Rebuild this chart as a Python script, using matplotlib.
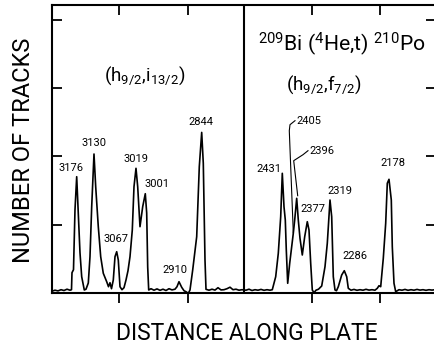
import matplotlib
matplotlib.use("Agg")
import matplotlib.pyplot as plt
import numpy as np

plt.rcParams['font.family'] = ['Roboto', 'DejaVu Sans']
plt.rcParams['mathtext.fontset'] = 'custom'
plt.rcParams['mathtext.rm'] = 'Roboto'
plt.rcParams['mathtext.it'] = 'Roboto'

# distance along plate (arbitrary units) and number of tracks (arbitrary units)
distance = [0, 3, 6, 9, 12, 15, 18, 19.5, 20, 21.5, 23, 24.7, 26.3, 28, 29.7, 32.3, 34,
            36.3, 38, 39.7, 42, 43.7, 46.3, 48.7, 51.3, 54.7, 56.5, 58, 59.5, 61.3, 63,
            64.7, 66.3, 68, 70, 72, 74, 76, 78, 80.3, 82, 84, 85.7, 88, 90.7, 93.3, 94.7,
            95.7, 96.7, 99, 102, 105, 108, 111, 114, 117, 120, 123, 125, 127, 129.7, 132,
            134, 136.3, 138, 140.7, 144.7, 147.3, 149, 149.7, 151.3, 153, 154, 157, 160,
            163, 166, 169, 172, 175, 178, 181, 184, 187, 190,
            194, 197, 200, 203, 206, 209, 212, 215, 218, 220.3, 223.7, 226.3, 228.7, 230.3,
            232, 233.3, 234.3, 235.7, 237.7, 239.7, 241.3, 242.7, 244.7, 246.3, 248, 250.3,
            252.7, 255.3, 257, 258.7, 260.3, 262, 264, 266.5, 269.7, 273, 275.3, 278, 279.7,
            281.3, 283, 284.5, 286.3, 289.7, 292.3, 294.7, 296.3, 299, 302, 305, 308, 311,
            314, 317, 320, 323, 325.3, 327, 328.7, 331.3, 333.7, 335.3, 337, 339.3, 340.3,
            342, 343.7, 347, 350, 353, 356, 359, 362, 365, 368, 371, 374, 377, 380, 383]
tracks = [1.5, 2.5, 1.8, 3, 2.2, 3.5, 2.5, 3, 20, 23, 83, 116, 80, 40, 16, 2.7, 3.5,
          9.7, 36, 86, 138.7, 106, 66, 36, 19.4, 11, 6, 10, 4, 12.7, 36,
          41, 32.7, 6, 3, 5, 12.7, 22, 36, 62.7, 106, 124.4, 106, 66, 86, 99, 79.7,
          25.7, 2.7, 4, 2.5, 3.8, 2.4, 3.5, 2.2, 4, 2.8, 3.5, 6, 11, 5.4, 2,
          1, -0.6, 2.7, 22.7, 56, 126, 149.7, 160.3, 129.4, 32.7, 3.4, 2.5, 3.5,
          2.6, 5, 2.8, 3, 4, 5.5, 3, 3.5, 2.5, 3,
          2.5, 3.5, 2.2, 3, 2.5, 3.3, 2.4, 3, 2.5, 3, 16, 39.4, 76, 119.4,
          86, 72.7, 42.7, 9.4, 29.4, 46, 59.4, 72.7, 94.4, 72.7, 54.4, 37.7,
          56, 71, 62.7, 29.4, 2.7, 0, 2.5, 3.5, 6.7, 26, 49.4, 92.7, 76,
          16, 2.7, 2, 6, 17.7, 22, 16, 4.4, 2.5, 3.3, 2.4, 3, 2.5,
          3.4, 2.6, 3, 2.5, 4.4, 7, 6, 34.4, 69.4, 109.4, 113.4, 92.7, 46,
          9.4, 1, 3, 2.5, 3.3, 2.4, 3, 2.5, 3.3, 2.6, 3, 2.4, 3, 2.6, 3]

# peak labels (keV) and label positions
peak_labels = ['3176', '3130', '3067', '3019', '3001', '2910', '2844',
               '2431', '2405', '2396', '2377', '2319', '2286', '2178']
label_x = [19.5, 42, 64.5, 84, 105.5, 123, 148.5,
           217, 257, 270, 261, 288, 303, 341]
label_y = [125, 150, 54, 134, 109, 23, 171,
           124, 172, 142, 84, 102, 37, 130]

# leader lines: label, peak position pointed at
leader_labels = ['2405', '2396']
leader_peak_x = [241.3, 245.7]
leader_peak_y = [60, 97]

plate_divider = 192.3
xtick_pos = [67, 136, 260, 328]
ytick_pos = [68.2, 136.4, 204.6, 272.8]

fig = plt.figure(figsize=(4.34, 3.49), dpi=100)
ax = fig.add_axes([0.1198, 0.1613, 0.8848, 0.8244])
ax.plot(distance, tracks, color='black', lw=1.2, solid_joinstyle='round')
ax.axvline(plate_divider, color='black', lw=1.5)
ax.set_xlim(0, 384)
ax.set_ylim(0, 287.7)

for s in ax.spines.values():
    s.set_linewidth(1.5)

ax.set_xticks(xtick_pos)
ax.set_yticks(ytick_pos)
ax.tick_params(axis='x', bottom=True, top=True, width=1.3, labelbottom=False)
ax.tick_params(axis='y', left=True, right=True, direction='in', length=7, width=1.3,
               labelleft=False)
# bottom ticks outward, top ticks inward
for t in ax.xaxis.get_major_ticks():
    t.tick1line.set_marker(matplotlib.markers.TICKDOWN)
    t.tick2line.set_marker(matplotlib.markers.TICKDOWN)
    t.tick1line.set_markersize(7)
    t.tick2line.set_markersize(7)

for lab, lx, ly in zip(peak_labels, label_x, label_y):
    ax.text(lx, ly, lab, fontsize=8, ha='center', va='center')

for lab, px, py in zip(leader_labels, leader_peak_x, leader_peak_y):
    i = peak_labels.index(lab)
    x0 = label_x[i] - 14
    y0 = label_y[i]
    ax.plot([x0, x0 - 5, px - 4, px], [y0, y0 - 4, y0 - 10, py], color='black', lw=0.8)

ax.text(93, 217, r'(h$_{9/2}$,i$_{13/2}$)', fontsize=13.5, ha='center', va='center')
ax.text(290, 248, r'$^{209}$Bi ($^{4}$He,t) $^{210}$Po', fontsize=15.2, ha='center', va='center')
ax.text(272, 208, r'(h$_{9/2}$,f$_{7/2}$)', fontsize=13.5, ha='center', va='center')

fig.text(24 / 434, 1 - 150 / 349, 'NUMBER OF TRACKS', rotation=90, fontsize=17,
         ha='center', va='center')
fig.text(246.5 / 434, 1 - 334 / 349, 'DISTANCE ALONG PLATE', fontsize=16.5,
         ha='center', va='center')

fig.savefig('out.png', dpi=100)
